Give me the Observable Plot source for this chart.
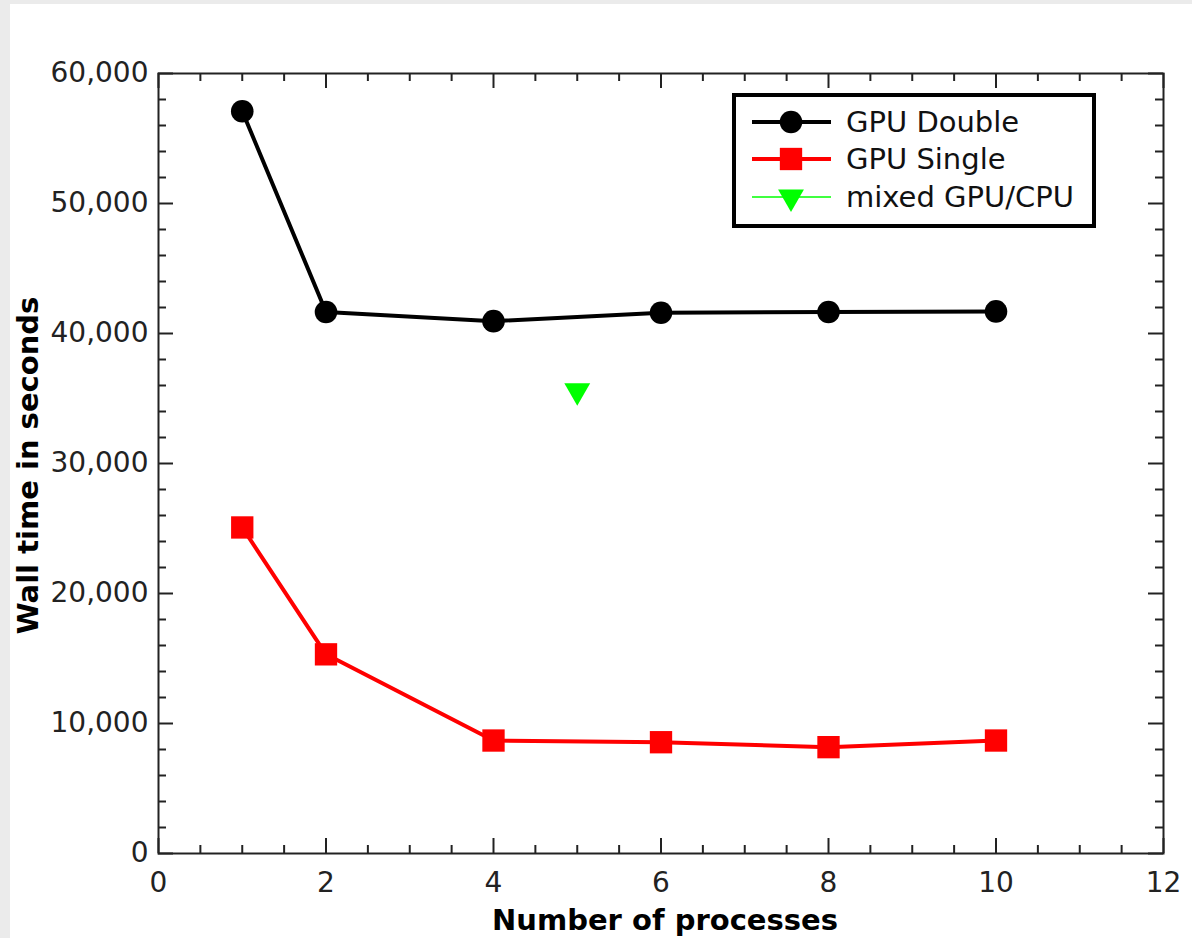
<!DOCTYPE html>
<html>
<head>
<meta charset="utf-8">
<script src="https://cdn.jsdelivr.net/npm/d3@7"></script>
<script src="https://cdn.jsdelivr.net/npm/@observablehq/plot@0.6"></script>
<style>
  html, body { margin: 0; padding: 0; background: #ebebeb; }
  #wrap { position: absolute; left: 10px; top: 4px; width: 1182px; height: 934px; background: #fff; }
  #wrap svg { display: block; }
  #legend { position: absolute; left: 722px; top: 89px; width: 364px; height: 135px; box-sizing: border-box; border: 4px solid #000; background: #fff; }
  #legend svg { position: absolute; left: 0; top: 0; }
</style>
</head>
<body>
<div id="wrap"><div id="chart"></div><div id="legend"></div></div>
<script>
// ---- data ----
const procs = [1, 2, 4, 6, 8, 10];
const gpuDouble = [57100, 41650, 40950, 41600, 41650, 41700];
const gpuSingle = [25080, 15320, 8690, 8560, 8180, 8690];
const mixedProcs = [5];
const mixedGpuCpu = [35600];

const seriesNames = ["GPU Double", "GPU Single", "mixed GPU/CPU"];
const seriesColors = ["#000000", "#ff0000", "#00ff00"];

const xMajorTicks = [0, 2, 4, 6, 8, 10, 12];
const xMinorTicks = d3.range(0, 12.01, 0.5).filter(v => v % 2 !== 0);
const yMajorTicks = [0, 10000, 20000, 30000, 40000, 50000, 60000];
const yMinorTicks = d3.range(0, 60001, 2000).filter(v => v % 10000 !== 0);

const xLabel = "Number of processes";
const yLabel = "Wall time in seconds";

const doubleData = procs.map((p, i) => ({x: p, y: gpuDouble[i]}));
const singleData = procs.map((p, i) => ({x: p, y: gpuSingle[i]}));
const mixedData = mixedProcs.map((p, i) => ({x: p, y: mixedGpuCpu[i]}));

const W = 1182, H = 934;
const mL = 148, mR = 29, mT = 69, mB = 85;
const fw = W - mL - mR, fh = H - mT - mB;
const majLen = 15, minLen = 8;
const axisColor = "#222";

const chart = Plot.plot({
  width: W, height: H,
  marginLeft: mL, marginRight: mR, marginTop: mT, marginBottom: mB,
  style: {fontFamily: "DejaVu Sans", fontSize: "28px", color: axisColor, background: "#fff"},
  x: {domain: [0, 12]},
  y: {domain: [0, 60000]},
  marks: [
    // tick labels
    Plot.axisX({ticks: xMajorTicks, tickSize: 0, tickPadding: 19, label: null, fontSize: 28}),
    Plot.axisY({ticks: yMajorTicks, tickSize: 0, tickPadding: 10, label: null, tickFormat: d3.format(","), fontSize: 28}),
    // inward ticks on all four sides
    Plot.ruleX(xMajorTicks, {stroke: axisColor, strokeWidth: 2, insetTop: fh - majLen}),
    Plot.ruleX(xMinorTicks, {stroke: axisColor, strokeWidth: 2, insetTop: fh - minLen}),
    Plot.ruleX(xMajorTicks, {stroke: axisColor, strokeWidth: 2, insetBottom: fh - majLen}),
    Plot.ruleX(xMinorTicks, {stroke: axisColor, strokeWidth: 2, insetBottom: fh - minLen}),
    Plot.ruleY(yMajorTicks, {stroke: axisColor, strokeWidth: 2, insetRight: fw - majLen}),
    Plot.ruleY(yMinorTicks, {stroke: axisColor, strokeWidth: 2, insetRight: fw - minLen}),
    Plot.ruleY(yMajorTicks, {stroke: axisColor, strokeWidth: 2, insetLeft: fw - majLen}),
    Plot.ruleY(yMinorTicks, {stroke: axisColor, strokeWidth: 2, insetLeft: fw - minLen}),
    Plot.frame({stroke: axisColor, strokeWidth: 2}),
    // axis titles
    Plot.text([xLabel], {frameAnchor: "bottom", dy: 67, dx: 4, text: d => d, fontWeight: "bold", fontSize: 29, fill: "#000", textAnchor: "middle", lineAnchor: "middle"}),
    Plot.text([yLabel], {frameAnchor: "left", dx: -130, dy: 2, rotate: -90, text: d => d, fontWeight: "bold", fontSize: 29, fill: "#000", textAnchor: "middle", lineAnchor: "middle"}),
    // series
    Plot.line(doubleData, {x: "x", y: "y", stroke: seriesColors[0], strokeWidth: 4}),
    Plot.dot(doubleData, {x: "x", y: "y", r: 11.3, fill: seriesColors[0], symbol: "circle"}),
    Plot.line(singleData, {x: "x", y: "y", stroke: seriesColors[1], strokeWidth: 4}),
    Plot.dot(singleData, {x: "x", y: "y", r: 12.6, fill: seriesColors[1], symbol: "square"}),
    Plot.dot(mixedData, {x: "x", y: "y", r: 9.6, fill: seriesColors[2], symbol: "triangle", rotate: 180})
  ]
});
document.getElementById("chart").appendChild(chart);

// ---- legend (HTML box with inline swatches) ----
const lg = d3.select("#legend").append("svg").attr("width", 356).attr("height", 127);
const rowsY = [25, 62, 100];
const symbols = [d3.symbolCircle, d3.symbolSquare, d3.symbolTriangle];
const sizes = [Math.PI * 11.3 * 11.3, Math.PI * 12.6 * 12.6, Math.PI * 9.6 * 9.6];
const lineW = [4, 4, 1.5];
seriesNames.forEach((name, i) => {
  const g = lg.append("g").attr("transform", `translate(0,${rowsY[i]})`);
  g.append("line").attr("x1", 16).attr("x2", 95).attr("y1", 0).attr("y2", 0)
    .attr("stroke", seriesColors[i]).attr("stroke-width", lineW[i]);
  g.append("path").attr("d", d3.symbol(symbols[i], sizes[i])())
    .attr("transform", `translate(55,0) rotate(${i === 2 ? 180 : 0})`)
    .attr("fill", seriesColors[i]);
  g.append("text").attr("x", 110).attr("y", 0).attr("dy", "0.35em")
    .attr("font-family", "DejaVu Sans").attr("font-size", 29).attr("fill", "#111").text(name);
});
</script>
</body>
</html>
